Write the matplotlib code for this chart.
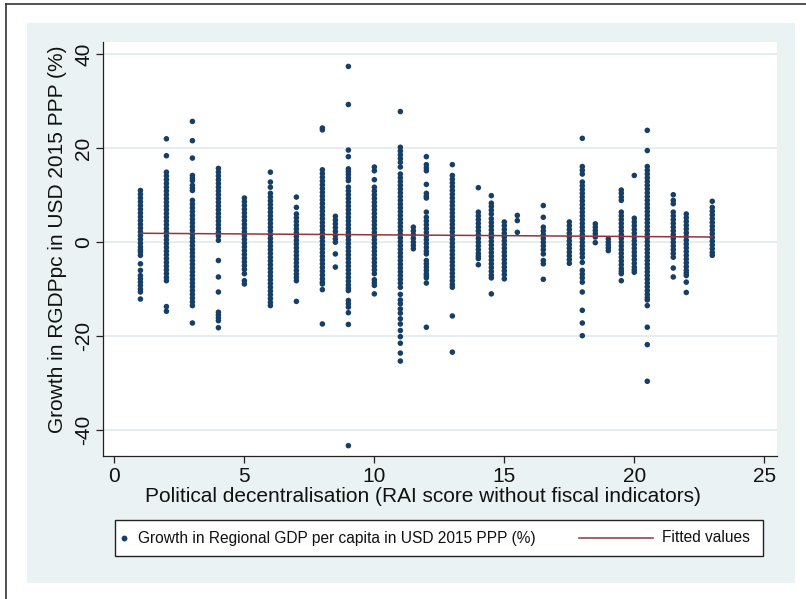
import matplotlib.pyplot as plt
from matplotlib.lines import Line2D
from matplotlib.patches import Rectangle

plt.rcParams["font.family"] = ["Liberation Sans", "DejaVu Sans"]
plt.rcParams["axes.unicode_minus"] = False

# political decentralisation score of each column of regions
rai_scores = [1, 2, 3, 4, 5, 6, 7, 8, 8.5, 9, 10, 11, 11.5, 12, 13, 14, 14.5,
              15, 15.5, 16.5, 17.5, 18, 18.5, 19, 19.5, 20, 20.5, 21.5, 22, 23]

# regional GDP per capita growth (%) observed at each score
g_01 = [11.0, 10.2, 9.4, 8.6, 7.8, 7.0, 6.2, 5.4, 4.6, 3.8, 3.0, 2.2, 1.4, 0.6,
        -0.2, -1.0, -1.6, -2.1, -2.8, -4.6, -6.0, -7.1, -7.8, -8.5, -9.2,
        -10.0, -10.6, -12.1]
g_02 = [22.0, 18.4, 14.9, 14.1, 13.3, 12.5, 11.7, 10.9, 10.1, 9.3, 8.5, 7.7,
        6.9, 6.1, 5.3, 4.5, 3.7, 2.9, 2.1, 1.3, 0.5, -0.3, -1.1, -1.9, -2.7,
        -3.5, -4.3, -5.1, -5.9, -6.7, -7.5, -8.2, -13.7, -14.7]
g_03 = [25.7, 21.6, 17.9, 14.2, 13.6, 13.1, 12.1, 11.5, 11.0, 8.9, 8.1, 7.3,
        6.5, 5.7, 4.9, 4.1, 3.3, 2.5, 1.7, 0.9, 0.1, -0.7, -1.5, -2.3, -3.1,
        -3.9, -4.7, -5.5, -6.3, -7.1, -7.9, -8.7, -9.5, -10.3, -11.1, -11.9,
        -12.7, -13.5, -17.2]
g_04 = [15.7, 14.9, 14.1, 13.3, 12.5, 11.7, 10.9, 10.1, 9.3, 8.5, 7.7, 6.9,
        6.1, 5.3, 4.5, 3.7, 2.9, 2.1, 1.3, 0.4, -3.9, -7.4, -10.6, -14.9,
        -15.5, -16.1, -16.7, -18.2]
g_05 = [9.4, 8.6, 7.8, 7.0, 6.2, 5.4, 4.6, 3.8, 3.0, 2.2, 1.4, 0.6, -0.2, -1.0,
        -1.8, -2.6, -3.4, -4.2, -5.0, -5.8, -6.7, -8.2, -8.9]
g_06 = [14.9, 12.8, 11.7, 10.4, 9.6, 8.8, 8.0, 7.2, 6.4, 5.6, 4.8, 4.0, 3.2,
        2.4, 1.6, 0.8, 0.0, -0.8, -1.6, -2.4, -3.2, -4.0, -4.8, -5.6, -6.4,
        -7.2, -8.0, -8.8, -9.6, -10.4, -11.2, -12.0, -12.8, -13.5]
g_07 = [9.6, 7.4, 6.0, 5.2, 4.4, 3.6, 2.8, 2.0, 1.2, 0.4, -0.4, -1.2, -2.0,
        -2.8, -3.6, -4.4, -5.2, -6.0, -6.8, -7.5, -8.2, -12.6]
g_08 = [24.3, 23.9, 15.4, 14.6, 13.8, 13.0, 12.2, 11.4, 10.6, 9.8, 9.0, 8.2,
        7.4, 6.6, 5.8, 5.0, 4.2, 3.4, 2.6, 1.8, 1.0, 0.2, -0.6, -1.4, -2.2,
        -3.0, -3.8, -4.6, -5.4, -6.2, -7.0, -7.8, -8.5, -8.9, -10.1, -17.4]
g_085 = [5.5, 4.7, 3.9, 3.1, 2.3, 1.5, 0.7, 0.0, -2.5, -5.3]
g_09 = [37.4, 29.3, 19.6, 18.2, 15.6, 15.0, 14.4, 13.7, 13.1, 11.7, 10.9, 10.1,
        9.3, 8.5, 7.7, 6.9, 6.1, 5.3, 4.5, 3.7, 2.9, 2.1, 1.3, 0.5, -0.3, -1.1,
        -1.9, -2.7, -3.5, -4.3, -5.1, -5.9, -6.7, -7.5, -8.3, -9.1, -9.8,
        -10.3, -12.4, -13.1, -13.8, -15.0, -17.5, -43.3]
g_10 = [16.0, 15.2, 13.3, 11.7, 10.9, 10.1, 9.3, 8.5, 7.7, 6.9, 6.1, 5.3, 4.5,
        3.7, 2.9, 2.1, 1.3, 0.5, -0.3, -1.1, -1.9, -2.7, -3.5, -4.3, -5.1,
        -5.9, -6.7, -8.0, -8.6, -9.2, -11.0]
g_11 = [27.8, 20.2, 19.4, 18.6, 17.8, 17.0, 16.0, 14.5, 13.7, 12.9, 12.1, 11.3,
        10.5, 9.7, 8.9, 8.1, 7.3, 6.5, 5.7, 4.9, 4.1, 3.3, 2.5, 1.7, 0.9, 0.1,
        -0.7, -1.5, -2.3, -3.1, -3.9, -4.7, -5.5, -6.3, -7.1, -7.9, -8.7, -9.6,
        -11.1, -12.3, -13.1, -14.2, -15.1, -16.3, -17.4, -18.8, -20.1, -21.5,
        -23.6, -25.3]
g_115 = [3.2, 2.4, 1.6, 0.8, 0.0, -0.7, -1.4]
g_12 = [18.2, 16.5, 15.8, 15.2, 12.3, 10.4, 9.8, 9.4, 6.4, 5.3, 4.5, 3.7, 2.9,
        2.1, 1.3, 0.5, -0.3, -1.1, -1.9, -2.5, -3.9, -4.6, -5.3, -6.0, -6.7,
        -7.1, -7.6, -8.7, -18.1]
g_13 = [16.5, 14.2, 13.4, 12.6, 11.8, 11.0, 10.2, 9.4, 8.6, 7.8, 7.0, 6.2, 5.4,
        4.6, 3.8, 3.0, 2.2, 1.4, 0.6, -0.2, -1.0, -1.8, -2.6, -3.4, -4.2, -5.0,
        -5.8, -6.6, -7.4, -8.2, -9.0, -9.6, -15.7, -23.4]
g_14 = [11.6, 6.4, 5.6, 4.8, 4.0, 3.2, 2.4, 1.6, 0.8, 0.0, -0.8, -1.6, -2.4,
        -3.0, -3.5, -4.8]
g_145 = [9.9, 8.3, 7.6, 6.8, 6.0, 5.0, 4.2, 3.4, 2.6, 1.8, 1.0, 0.2, -0.6,
         -1.4, -2.2, -3.0, -3.8, -4.6, -5.4, -6.2, -7.0, -7.6, -11.0]
g_15 = [4.3, 3.5, 2.7, 1.9, 1.1, 0.3, -0.5, -1.3, -2.1, -2.9, -3.7, -4.5, -5.3,
        -6.1, -6.9, -7.8]
g_155 = [5.7, 4.6, 2.1]
g_165 = [7.8, 5.3, 3.2, 2.4, 1.6, 0.8, 0.0, -0.8, -1.6, -2.5, -3.9, -4.6, -7.9]
g_175 = [4.3, 3.5, 2.7, 1.9, 1.1, 0.3, -0.5, -1.3, -2.1, -2.9, -3.7, -4.5]
g_18 = [22.1, 16.1, 15.3, 14.5, 12.8, 12.0, 11.2, 10.4, 9.6, 8.8, 8.0, 7.2, 6.4,
        5.6, 4.8, 4.0, 3.2, 2.4, 1.6, 0.8, 0.0, -0.8, -1.6, -2.4, -3.2, -4.3,
        -6.0, -6.8, -7.6, -8.5, -10.6, -14.5, -17.2, -19.9]
g_185 = [3.9, 3.2, 2.5, 1.8, 1.1, -0.1]
g_19 = [0.7, 0.0, -0.6, -1.2, -1.8]
g_195 = [11.1, 10.4, 9.6, 8.9, 6.4, 5.6, 4.8, 4.0, 3.2, 2.4, 1.6, 0.8, 0.0,
         -0.8, -1.6, -2.4, -3.2, -4.0, -4.8, -5.6, -6.2, -6.7, -8.2]
g_20 = [14.2, 5.1, 4.3, 3.5, 2.7, 1.9, 1.1, 0.3, -0.5, -1.3, -2.1, -2.9, -3.7,
        -4.5, -5.3, -5.9, -6.4]
g_205 = [23.8, 19.5, 16.1, 15.3, 14.5, 13.7, 12.9, 12.1, 11.3, 10.5, 9.7, 8.9,
         8.1, 7.3, 6.5, 5.7, 4.9, 4.1, 3.3, 2.5, 1.7, 0.9, 0.1, -0.7, -1.5,
         -2.3, -3.1, -3.9, -4.7, -5.5, -6.3, -7.1, -7.9, -8.7, -9.5, -10.3,
         -11.1, -11.8, -12.3, -13.5, -18.1, -21.8, -29.6]
g_215 = [10.1, 8.9, 8.2, 6.4, 5.6, 4.8, 4.0, 3.2, 2.4, 1.6, 0.8, 0.0, -0.8,
         -1.6, -2.4, -3.2, -5.5, -7.4]
g_22 = [6.0, 5.2, 4.4, 3.6, 2.8, 2.0, 1.2, 0.4, -0.4, -1.2, -2.0, -2.8, -3.6,
        -4.4, -5.2, -6.0, -6.6, -7.1, -8.5, -10.7]
g_23 = [8.7, 7.4, 6.6, 5.8, 5.0, 4.2, 3.4, 2.6, 1.8, 1.0, 0.2, -0.6, -1.4,
        -2.2, -2.8]

growth_cols = [g_01, g_02, g_03, g_04, g_05, g_06, g_07, g_08, g_085, g_09,
               g_10, g_11, g_115, g_12, g_13, g_14, g_145, g_15, g_155, g_165,
               g_175, g_18, g_185, g_19, g_195, g_20, g_205, g_215, g_22, g_23]

# linear fit, evaluated at the ends of the score range
fit_x = [1, 23]
fit_y = [1.9, 1.1]

x_ticks = [0, 5, 10, 15, 20, 25]
y_ticks = [-40, -20, 0, 20, 40]

scatter_label = "Growth in Regional GDP per capita in USD 2015 PPP (%)"
fit_label = "Fitted values"
x_title = "Political decentralisation (RAI score without fiscal indicators)"
y_title = "Growth in RGDPpc in USD 2015 PPP (%)"

NAVY = "#173f66"
MAROON = "#90353b"
PANEL = "#eaf2f3"

W, H = 806, 599


def fx(px):
    return px / W


def fy(py):
    return 1 - py / H


fig = plt.figure(figsize=(W / 100, H / 100), dpi=100)
fig.patch.set_facecolor("white")

# outer frame and stata-like graph region
fig.add_artist(Line2D([fx(6), 1], [fy(4), fy(4)], color="#333333", lw=1.2))
fig.add_artist(Line2D([fx(6), fx(6)], [fy(4), 0], color="#333333", lw=1.2))
fig.add_artist(Rectangle((fx(27), fy(583)), fx(795) - fx(27), fy(23) - fy(583),
                         facecolor=PANEL, edgecolor="none", zorder=-5))

ax = fig.add_axes([fx(103), fy(456), fx(777) - fx(103), fy(42) - fy(456)])
ax.set_facecolor("white")

xs, ys = [], []
for score, col in zip(rai_scores, growth_cols):
    xs += [score] * len(col)
    ys += col
ax.scatter(xs, ys, s=16, color=NAVY, edgecolors="none", zorder=3)
ax.plot(fit_x, fit_y, color=MAROON, lw=1.1, zorder=4)

ax.set_xlim(-0.44, 25.49)
ax.set_ylim(-45.5, 42.6)
ax.set_xticks(x_ticks)
ax.set_yticks(y_ticks)
ax.grid(axis="y", color="#e3ecee", lw=1.3, zorder=0)
ax.set_axisbelow(True)
for side in ("top", "right"):
    ax.spines[side].set_visible(False)
for side in ("left", "bottom"):
    ax.spines[side].set_linewidth(0.9)
    ax.spines[side].set_color("#222222")
ax.tick_params(length=5, width=0.9, color="#222222", labelsize=15,
               labelcolor="#111111")
ax.tick_params(axis="y", labelrotation=90, pad=2)
ax.tick_params(axis="x", pad=3)
plt.setp(ax.get_yticklabels(), va="center")

fig.text(fx(423), fy(497), x_title, ha="center", va="center", fontsize=15,
         color="#111111")
fig.text(fx(58), fy(239), y_title, ha="center", va="center", fontsize=15,
         rotation=90, color="#111111")

# legend box drawn by hand so both keys sit where they belong
fig.add_artist(Rectangle((fx(115), fy(556)), fx(763) - fx(115), fy(520) - fy(556),
                         facecolor="white", edgecolor="#222222", lw=1.0))
fig.add_artist(Line2D([fx(124)], [fy(538)], marker="o", ms=3.2, color=NAVY,
                      linestyle="none"))
fig.text(fx(138), fy(538), scatter_label, ha="left", va="center", fontsize=11.2,
         color="#111111")
fig.add_artist(Line2D([fx(579), fx(653)], [fy(538), fy(538)], color=MAROON,
                      lw=1.1))
fig.text(fx(662), fy(538), fit_label, ha="left", va="center", fontsize=11.2,
         color="#111111")

fig.savefig("out.png", dpi=100)
